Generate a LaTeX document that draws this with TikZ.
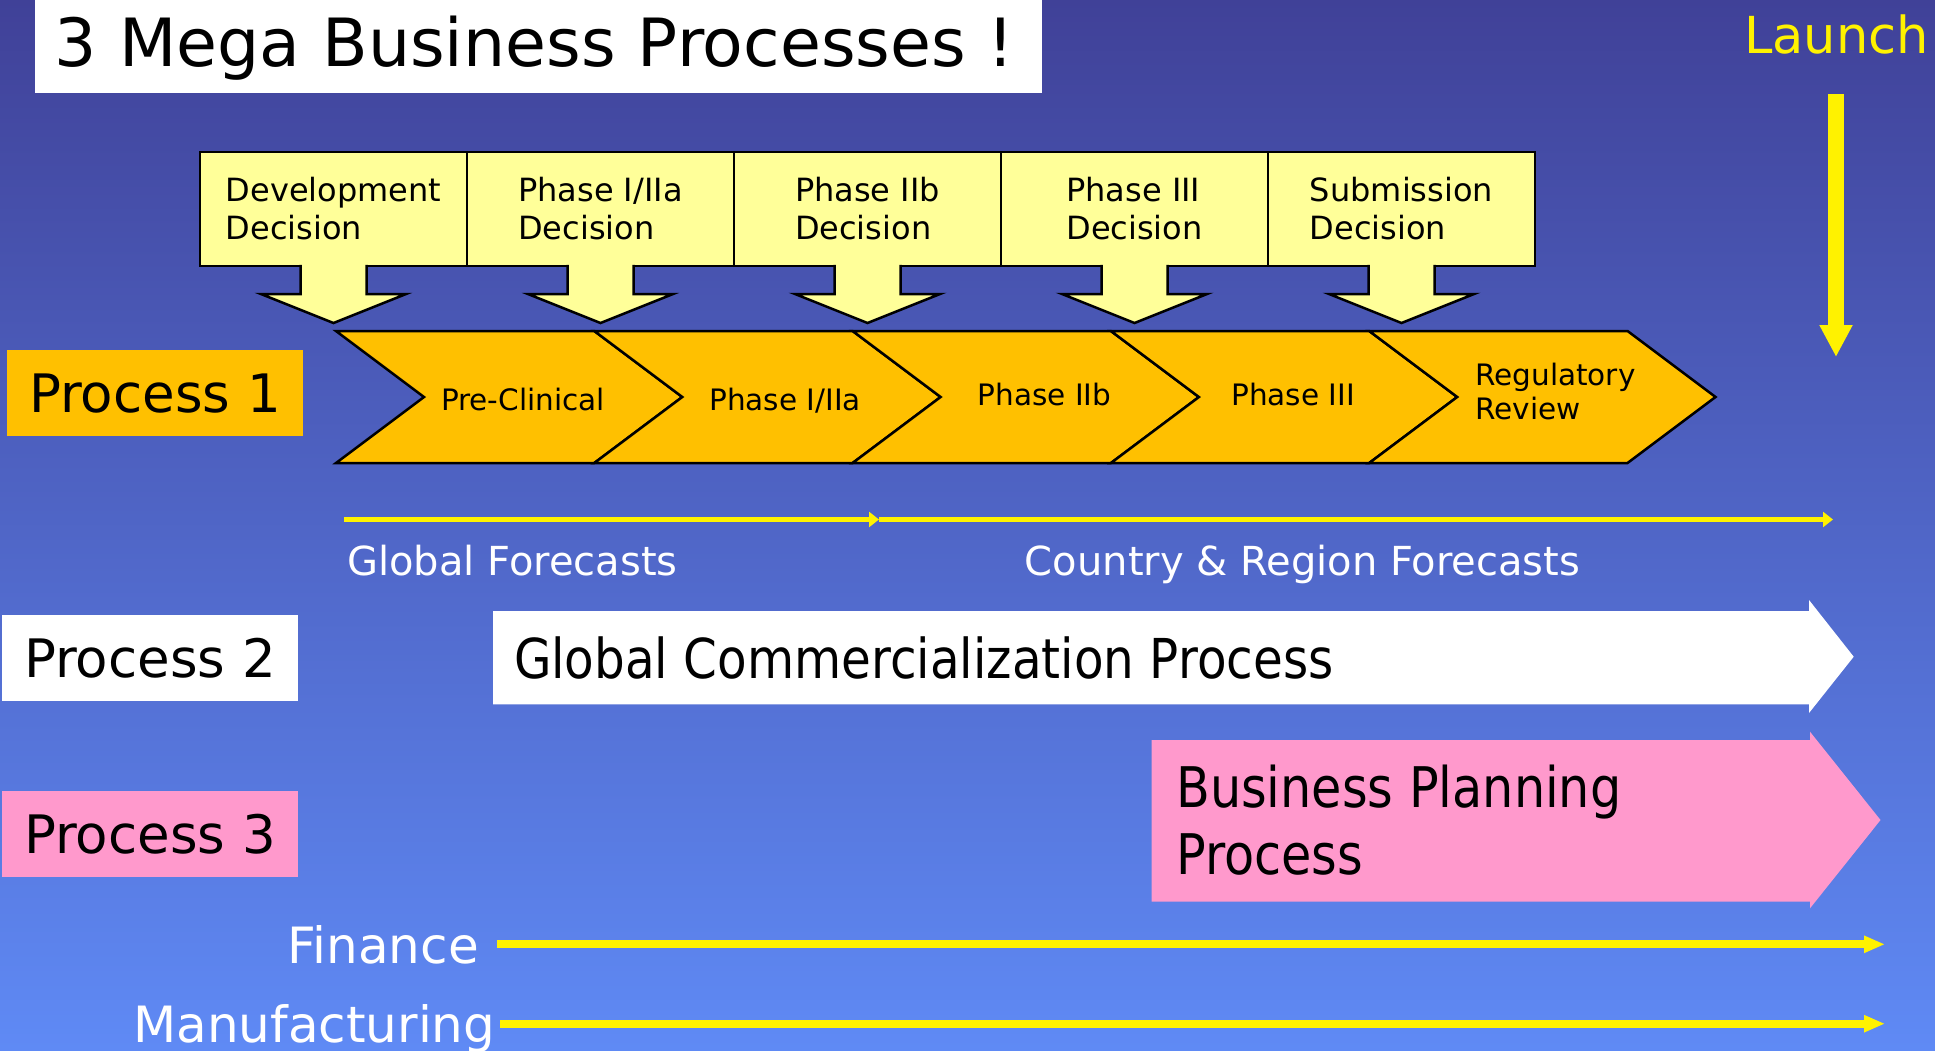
\documentclass[tikz,border=0pt]{standalone}
\usepackage{fontspec}
\setmainfont{DejaVu Sans}
\usepackage{graphicx}
\usetikzlibrary{arrows.meta, positioning, calc}
\definecolor{bgtop}{RGB}{64,65,152}
\definecolor{bgbot}{RGB}{95,138,245}
\definecolor{decyellow}{RGB}{255,255,153}
\definecolor{phaseorange}{RGB}{255,192,0}
\definecolor{procpink}{RGB}{255,153,204}
\newcommand{\narrowtext}[1]{\scalebox{0.88}[1]{#1}}

\begin{document}
\begin{tikzpicture}[x=1pt, y=-1pt,
    titlebox/.style = {rectangle, fill=white, anchor=west, inner xsep=20pt, text width=967pt, minimum height=102.5pt, text depth=0pt, font=\fontsize{66.5}{70}\selectfont},
    decbox/.style = {rectangle, draw=black, line width=2.5pt, fill=decyellow, minimum width=267pt, minimum height=114pt, outer sep=0pt, align=left, font=\fontsize{32}{38}\selectfont},
    decline/.style = {draw=black, line width=2.5pt},
    chevron/.style = {draw=black, line width=2.5pt, fill=phaseorange},
    phase/.style = {anchor=base, align=left, font=\fontsize{29.5}{34.3}\selectfont},
    proc/.style = {rectangle, minimum width=296pt, minimum height=86pt, text depth=0pt, font=\fontsize{53}{60}\selectfont},
    fclabel/.style = {anchor=base west, text=white, inner sep=0pt, font=\fontsize{40}{48}\selectfont},
    lanelabel/.style = {text=white, text depth=0pt, inner xsep=18pt, font=\fontsize{50}{58}\selectfont},
    bigtext/.style = {anchor=base west, align=left, inner sep=0pt},
    fcarrow/.style = {yellow, line width=5pt, -{Triangle[length=10pt, width=15pt]}},
    lanearrow/.style = {yellow, line width=8pt, -{Triangle[length=21pt, width=16pt]}},
    launcharrow/.style = {yellow, line width=16pt, -{Triangle[length=32pt, width=31pt]}}]
    \useasboundingbox (0,0) rectangle (1935,1050);
    \shade[top color=bgtop, bottom color=bgbot] (0,0) rectangle (1935,1050);

    % Nodes
    \node[titlebox] (title) at (34.5,41.25) {3 Mega Business Processes !};
    \node[text=yellow, anchor=base west, inner sep=0pt, font=\fontsize{51}{60}\selectfont] (launch) at (1744,53.3) {Launch};

    \node[decbox] (devdec) at (333.5,209) {Development\\Decision};
    \node[decbox, right=0pt of devdec] (p1dec) {Phase I/IIa\\Decision};
    \node[decbox, right=0pt of p1dec] (p2dec) {Phase IIb\\Decision};
    \node[decbox, right=0pt of p2dec] (p3dec) {Phase III\\Decision};
    \node[decbox, right=0pt of p3dec] (subdec) {Submission\\Decision};

    \foreach \i in {0,...,4}
        \filldraw[chevron] ({336+258.3*\i},331) -- ++(258.3,0) -- ++(88,66) -- ++(-88,66) -- ++(-258.3,0) -- ++(88,-66) -- cycle;
    \node[phase] (precl) at (523,410) {Pre-Clinical};
    \node[phase] (ph1) at (785,410) {Phase I/IIa};
    \node[phase] (ph2) at (1044.5,405) {Phase IIb};
    \node[phase] (ph3) at (1293,405) {Phase III};
    \node[phase, anchor=base west] (regrev) at (1471.7,419.3) {Regulatory\\Review};

    \node[proc, fill=phaseorange] (proc1) at (155,393.4) {Process 1};
    \node[proc, fill=white] (proc2) at (150,657.5) {Process 2};
    \node[proc, fill=procpink] (proc3) at (150,833.5) {Process 3};

    \node[fclabel] (globfc) at (347,575) {Global Forecasts};
    \node[fclabel] (ctryfc) at (1024.7,575) {Country \& Region Forecasts};

    \fill[white] (493,611) -- (1809,611) -- (1809,600) -- (1853.7,656.7) -- (1809,713) -- (1809,704.3) -- (493,704.3) -- cycle;
    \node[bigtext, font=\fontsize{55}{66}\selectfont] (gcp) at (513.8,678) {\narrowtext{Global Commercialization Process}};

    \fill[procpink] (1151.6,740) -- (1810,740) -- (1810,731.7) -- (1880.5,820) -- (1810,908.3) -- (1810,901.7) -- (1151.6,901.7) -- cycle;
    \node[bigtext, font=\fontsize{56}{66.7}\selectfont] (bpp) at (1176,874) {\narrowtext{Business Planning}\\\narrowtext{Process}};

    \node[lanelabel, anchor=base east] (finance) at (497,963.3) {Finance};
    \node[lanelabel, anchor=base west, inner xsep=5pt] (manuf) at (128,1042.7) {Manufacturing};

    % Arrows
    \foreach \d in {devdec,p1dec,p2dec,p3dec,subdec} {
        \fill[decyellow] ($(\d.south)+(-33,-2)$) -- ($(\d.south)+(-33,28)$) -- ($(\d.south)+(-72.5,28)$) -- ($(\d.south)+(0,57)$) -- ($(\d.south)+(72.5,28)$) -- ($(\d.south)+(33,28)$) -- ($(\d.south)+(33,-2)$) -- cycle;
        \draw[decline] ($(\d.south)+(-33,-1.2)$) -- ($(\d.south)+(-33,28)$) -- ($(\d.south)+(-72.5,28)$) -- ($(\d.south)+(0,57)$) -- ($(\d.south)+(72.5,28)$) -- ($(\d.south)+(33,28)$) -- ($(\d.south)+(33,-1.2)$);
    }

    \coordinate (launchtip) at (1836,357);
    \draw[launcharrow] ($(launch.south -| launchtip)+(0,40)$) -- (launchtip);

    \coordinate (fcstart) at (344,519.5);
    \coordinate (fcmid) at (879,519.5);
    \coordinate (fcend) at (1833,519.5);
    \draw[fcarrow] (fcstart) -- (fcmid);
    \draw[fcarrow] (fcmid) -- (fcend);

    \coordinate (laneend) at (1885,0);
    \draw[lanearrow] (finance.east) -- (finance.east -| laneend);
    \draw[lanearrow] (manuf.east) -- (manuf.east -| laneend);
\end{tikzpicture}
\end{document}
